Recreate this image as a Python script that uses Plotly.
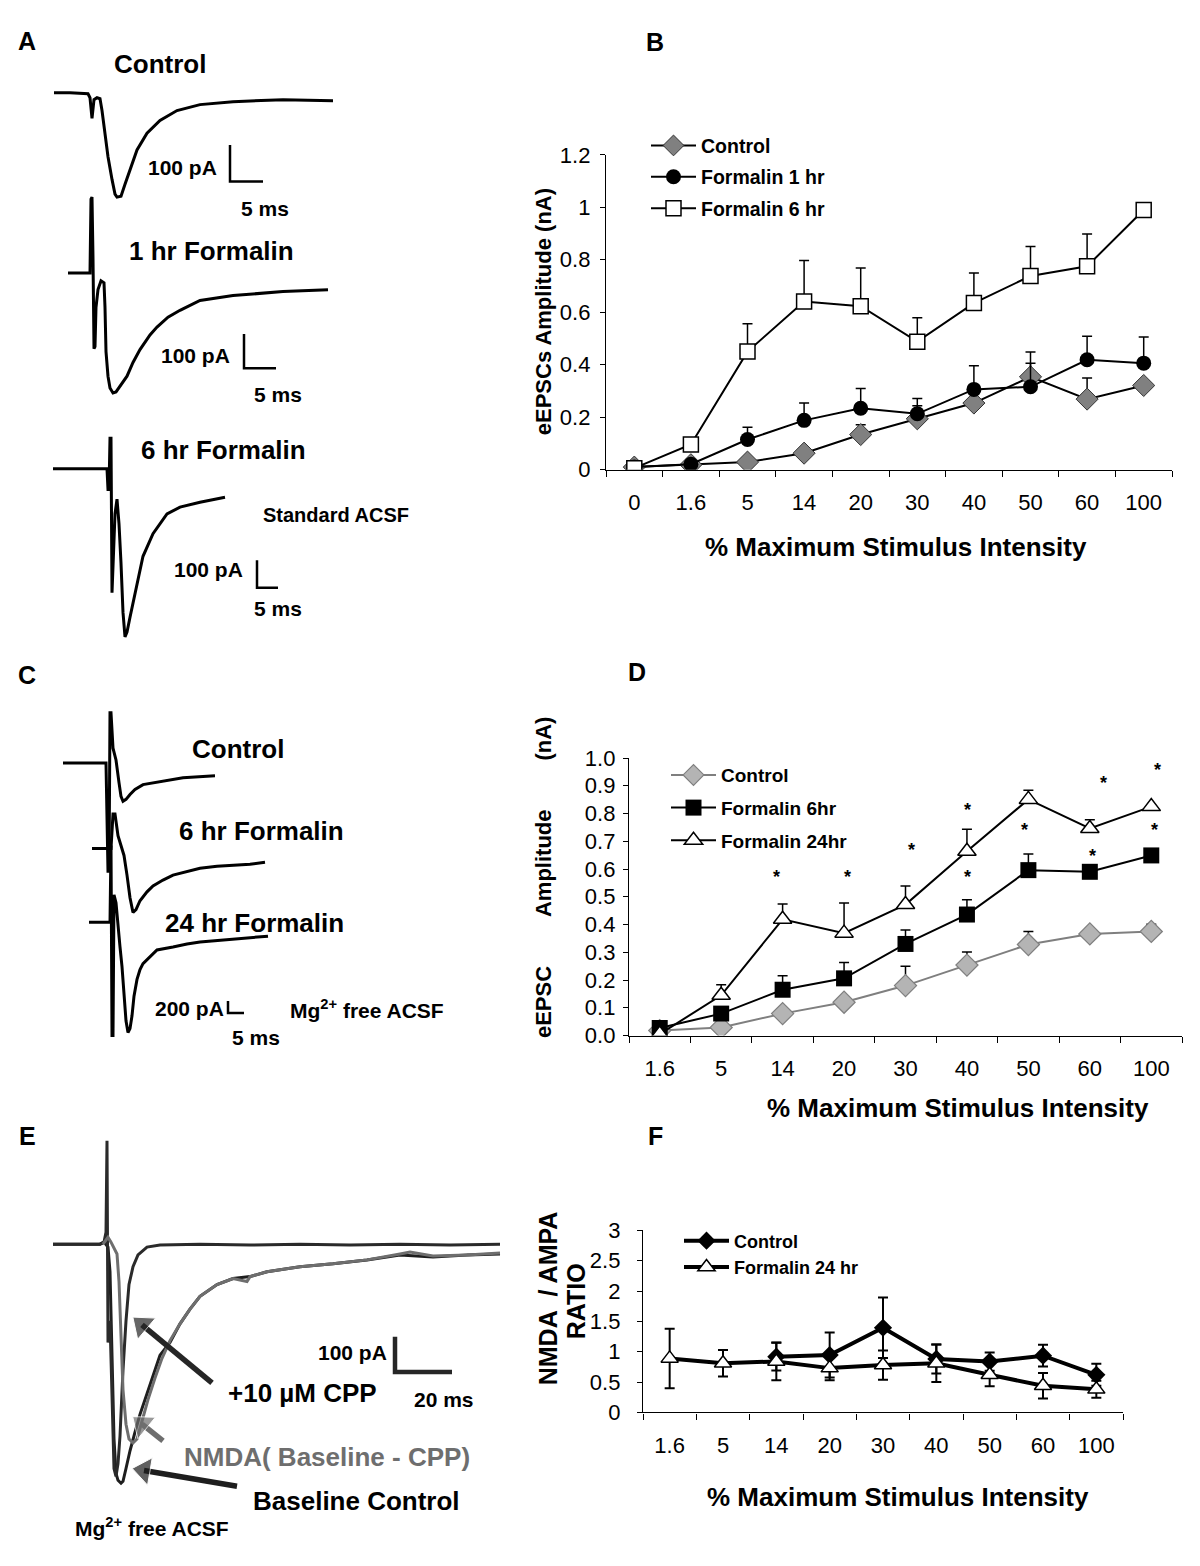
import plotly.graph_objects as go

W, H = 1200, 1566
OFF = 8  # the html body keeps its default 8px margin, so page pixel = figure pixel + 8
FONT = "Liberation Sans, Arial, sans-serif"

# ---------------- panel B data ----------------
b_cats = ['0', '1.6', '5', '14', '20', '30', '40', '50', '60', '100']
b_control = [0.01, 0.019, 0.029, 0.063, 0.134, 0.194, 0.254, 0.354, 0.269, 0.321]
b_control_err = [0, 0.005, 0.01, 0.01, 0.037, 0.05, 0.02, 0.095, 0.08, 0.01]
b_form1 = [0.01, 0.021, 0.115, 0.188, 0.234, 0.213, 0.306, 0.316, 0.419, 0.406]
b_form1_err = [0, 0.005, 0.047, 0.066, 0.075, 0.058, 0.09, 0.09, 0.09, 0.1]
b_form6 = [0.006, 0.096, 0.45, 0.641, 0.623, 0.488, 0.635, 0.738, 0.775, 0.99]
b_form6_err = [0, 0, 0.106, 0.156, 0.146, 0.091, 0.115, 0.113, 0.123, 0]

# ---------------- panel D data ----------------
d_cats = ['1.6', '5', '14', '20', '30', '40', '50', '60', '100']
d_control = [0.018, 0.029, 0.079, 0.12, 0.18, 0.254, 0.328, 0.366, 0.375]
d_control_err = [0, 0, 0.01, 0.01, 0.07, 0.047, 0.047, 0, 0.026]
d_form6 = [0.027, 0.079, 0.165, 0.206, 0.33, 0.436, 0.596, 0.59, 0.649]
d_form6_err = [0, 0, 0.05, 0.057, 0.05, 0.053, 0.058, 0, 0]
d_form24 = [0.005, 0.145, 0.419, 0.369, 0.472, 0.664, 0.851, 0.746, 0.825]
d_form24_err = [0, 0.038, 0.055, 0.109, 0.067, 0.079, 0.033, 0.032, 0]
d_star_x = [1.9, 3.06, 4.1, 5.01, 5.01, 6.11, 5.94, 7.23, 7.04, 8.1, 8.06]
d_star_y = [0.586, 0.586, 0.684, 0.828, 0.586, 1.02, 0.755, 0.923, 0.66, 0.97, 0.755]

# ---------------- panel F data ----------------
f_cats = ['1.6', '5', '14', '20', '30', '40', '50', '60', '100']
f_control = [None, None, 0.919, 0.946, 1.395, 0.881, 0.838, 0.935, 0.62]
f_control_err = [0, 0, 0.23, 0.37, 0.5, 0.24, 0.15, 0.18, 0.18]
f_form24 = [0.89, 0.81, 0.84, 0.73, 0.78, 0.81, 0.62, 0.44, 0.38]
f_form24_err = [0.49, 0.22, 0.31, 0.2, 0.24, 0.31, 0.19, 0.21, 0.14]

a_ctrl_x = [54, 70, 88, 90, 92, 94, 97, 100, 102, 105, 108, 112, 115, 117, 121, 125, 130, 137, 147, 160, 177, 200, 233, 283, 333]
a_ctrl_y = [82, 82, 83, 87, 108, 89, 87, 88, 100, 123, 147, 170, 185, 188, 187, 175, 160, 140, 123, 110, 100, 94, 91, 89, 90]
a_1h_x = [68, 90, 91, 92, 93, 94, 95, 96, 98, 101, 104, 105, 106, 108, 110, 113, 116, 120, 127, 133, 140, 150, 157, 168, 180, 200, 233, 283, 328]
a_1h_y = [265, 265, 190, 188, 250, 342, 340, 300, 282, 273, 275, 300, 345, 370, 382, 387, 386, 380, 370, 356, 343, 328, 320, 310, 303, 293, 288, 284, 282]
a_6h_x = [53, 107, 108, 109, 110, 111, 112, 113, 115, 117, 119, 121, 123, 125, 127, 130, 133, 138, 143, 153, 167, 180, 200, 225]
a_6h_y = [464, 464, 485, 485, 433, 433, 590, 560, 510, 495, 520, 560, 610, 635, 630, 615, 600, 575, 553, 530, 510, 503, 498, 493]

c_ctrl_x = [63, 106, 108, 109, 110, 111, 113, 116, 119, 121, 123, 126, 130, 135, 143, 160, 183, 215]
c_ctrl_y = [763, 763, 873, 873, 712, 712, 748, 760, 783, 797, 802, 800, 795, 790, 785, 782, 778, 776]
c_6h_x = [92, 110, 111, 113, 115, 118, 121, 124, 127, 130, 133, 136, 140, 147, 153, 163, 173, 187, 200, 217, 233, 250, 265]
c_6h_y = [850, 850, 850, 815, 815, 837, 847, 857, 877, 900, 915, 912, 903, 894, 888, 882, 877, 873, 870, 868, 867, 866, 864]
c_24h_x = [89, 110, 111, 112, 113, 114, 116, 118, 120, 122, 124, 126, 128, 130, 132, 134, 137, 140, 143, 150, 157, 173, 187, 200, 233, 268]
c_24h_y = [925, 925, 847, 1040, 1040, 897, 905, 930, 950, 970, 1000, 1025, 1037, 1033, 1020, 1000, 983, 973, 967, 960, 953, 950, 947, 945, 942, 939]

e_base_x = [53, 100, 104, 106, 108, 110, 112, 114, 116, 118, 121, 123, 126, 130, 135, 140, 147, 153, 160, 170, 180, 190, 200, 217, 233, 250, 267, 300, 333, 367, 400, 433, 467, 500]
e_base_y = [1252, 1252, 1250, 1252, 1255, 1280, 1380, 1450, 1485, 1492, 1495, 1493, 1480, 1462, 1443, 1425, 1404, 1385, 1365, 1352, 1333, 1318, 1305, 1293, 1287, 1285, 1280, 1275, 1272, 1268, 1263, 1265, 1263, 1262]
e_cpp_x = [53, 100, 104, 106, 107, 108, 110, 112, 114, 116, 118, 120, 123, 126, 129, 133, 138, 147, 160, 200, 250, 300, 350, 400, 450, 500]
e_cpp_y = [1252, 1252, 1250, 1240, 1147, 1352, 1330, 1420, 1480, 1488, 1475, 1447, 1380, 1330, 1293, 1275, 1263, 1255, 1253, 1252, 1253, 1252, 1253, 1252, 1253, 1252]
e_nmda_x = [103, 108, 111, 114, 117, 119, 121, 123, 126, 129, 133, 137, 142, 148, 155, 162, 170, 180, 190, 200, 217, 233, 247, 250, 267, 300, 333, 367, 400, 410, 433, 467, 500]
e_nmda_y = [1252, 1245, 1250, 1256, 1262, 1290, 1350, 1400, 1435, 1450, 1454, 1450, 1432, 1410, 1388, 1368, 1350, 1333, 1318, 1305, 1293, 1287, 1290, 1285, 1280, 1275, 1272, 1268, 1262, 1260, 1264, 1263, 1261]

# arrows in E: tail point, then centre of the arrow head
e_arrows = [
    ([212, 142], [1393, 1334], '#262626'),
    ([163, 142], [1452, 1435], '#6e6e6e'),
    ([237, 144], [1498, 1482], '#1e1e1e'),
]

scalebars = [
    ([230, 230, 263], [135, 172, 172], 2.5, 'black'),
    ([244, 244, 276], [327, 362, 362], 2.5, 'black'),
    ([257, 257, 278], [557, 585, 585], 2.5, 'black'),
    ([228, 228, 244], [1005, 1017, 1017], 2.5, 'black'),
    ([395, 395, 452], [1346, 1382, 1382], 4.5, '#262626'),
]


def dx(p0, p1):
    return [(p0 - OFF) / W, (p1 - OFF) / W]


def dy(top, bottom):
    return [1 - (bottom - OFF) / H, 1 - (top - OFF) / H]


fig = go.Figure()

for xs, ys, col in [
    (a_ctrl_x, a_ctrl_y, 'black'), (a_1h_x, a_1h_y, 'black'), (a_6h_x, a_6h_y, 'black'),
    (c_ctrl_x, c_ctrl_y, 'black'), (c_6h_x, c_6h_y, 'black'), (c_24h_x, c_24h_y, 'black'),
    (e_base_x, e_base_y, '#1e1e1e'), (e_cpp_x, e_cpp_y, '#2a2a2a'), (e_nmda_x, e_nmda_y, '#6e6e6e'),
]:
    fig.add_trace(go.Scatter(x=xs, y=ys, mode='lines', line=dict(color=col, width=3),
                             xaxis='x4', yaxis='y4', showlegend=False, hoverinfo='skip'))
for xs, ys, wd, col in scalebars:
    fig.add_trace(go.Scatter(x=xs, y=ys, mode='lines', line=dict(color=col, width=wd),
                             xaxis='x4', yaxis='y4', showlegend=False, hoverinfo='skip'))
for xs, ys, col in e_arrows:
    fig.add_trace(go.Scatter(x=xs, y=ys, mode='lines+markers', line=dict(color=col, width=5.5),
                             marker=dict(symbol='triangle-up', size=[0, 24], color=col, angleref='previous'),
                             xaxis='x4', yaxis='y4', showlegend=False, hoverinfo='skip'))


def up_err(errs):
    return dict(type='data', array=errs, arrayminus=[0] * len(errs), symmetric=False,
                color='black', thickness=1.5, width=5)


# ---- B ----
fig.add_trace(go.Scatter(x=b_cats, y=b_control, name='Control', legendgroup='b1',
                         mode='lines+markers', line=dict(color='black', width=2),
                         marker=dict(symbol='diamond', size=17, color='#808080', line=dict(color='#333333', width=1)),
                         error_y=up_err(b_control_err), xaxis='x', yaxis='y', legend='legend'))
fig.add_trace(go.Scatter(x=b_cats, y=b_form1, name='Formalin 1 hr', legendgroup='b2',
                         mode='lines+markers', line=dict(color='black', width=2),
                         marker=dict(symbol='circle', size=15, color='black'),
                         error_y=up_err(b_form1_err), xaxis='x', yaxis='y', legend='legend'))
fig.add_trace(go.Scatter(x=b_cats, y=b_form6, name='Formalin 6 hr', legendgroup='b3',
                         mode='lines+markers', line=dict(color='black', width=2),
                         marker=dict(symbol='square', size=15, color='white', line=dict(color='black', width=1.5)),
                         error_y=up_err(b_form6_err), xaxis='x', yaxis='y', legend='legend'))

# ---- D ----
fig.add_trace(go.Scatter(x=d_cats, y=d_control, name='Control', legendgroup='d1',
                         mode='lines+markers', line=dict(color='#7f7f7f', width=2),
                         marker=dict(symbol='diamond', size=17, color='#b4b4b4', line=dict(color='#7f7f7f', width=1.2)),
                         error_y=up_err(d_control_err), xaxis='x2', yaxis='y2', legend='legend2'))
fig.add_trace(go.Scatter(x=d_cats, y=d_form6, name='Formalin 6hr', legendgroup='d2',
                         mode='lines+markers', line=dict(color='black', width=2),
                         marker=dict(symbol='square', size=16, color='black'),
                         error_y=up_err(d_form6_err), xaxis='x2', yaxis='y2', legend='legend2'))
fig.add_trace(go.Scatter(x=d_cats, y=d_form24, name='Formalin 24hr', legendgroup='d3',
                         mode='lines+markers', line=dict(color='black', width=2),
                         marker=dict(symbol='triangle-up', size=16, color='white', line=dict(color='black', width=1.5)),
                         error_y=up_err(d_form24_err), xaxis='x2', yaxis='y2', legend='legend2'))

# ---- F ----
fig.add_trace(go.Scatter(x=f_cats, y=f_control, name='Control', legendgroup='f1',
                         mode='lines+markers', line=dict(color='black', width=4),
                         marker=dict(symbol='diamond', size=14, color='black'),
                         error_y=dict(type='data', array=f_control_err, color='black', thickness=2, width=5),
                         xaxis='x3', yaxis='y3', legend='legend3'))
fig.add_trace(go.Scatter(x=f_cats, y=f_form24, name='Formalin 24 hr', legendgroup='f2',
                         mode='lines+markers', line=dict(color='black', width=4),
                         marker=dict(symbol='triangle-up', size=15, color='white', line=dict(color='black', width=1.5)),
                         error_y=dict(type='data', array=f_form24_err, color='black', thickness=2, width=5),
                         xaxis='x3', yaxis='y3', legend='legend3'))


def xcat(domain, cats, anchor):
    return dict(domain=domain, anchor=anchor, type='category', categoryorder='array', categoryarray=cats,
                range=[-0.5, len(cats) - 0.5], tickson='boundaries', ticks='outside', ticklen=6,
                tickcolor='black', showline=True, linecolor='black', linewidth=1.3, showgrid=False,
                zeroline=False, tickfont=dict(family=FONT, size=22, color='black'),
                ticklabelstandoff=13, fixedrange=True)


def ynum(domain, rng, dtick, anchor, standoff, fmt=None):
    d = dict(domain=domain, anchor=anchor, range=rng, dtick=dtick, ticks='outside', ticklen=5,
             tickcolor='black', showline=True, linecolor='black', linewidth=1.3, showgrid=False,
             zeroline=False, tickfont=dict(family=FONT, size=22, color='black'),
             ticklabelstandoff=standoff, fixedrange=True)
    if fmt:
        d['tickformat'] = fmt
    return d


def leg(left, top, size, gap):
    return dict(x=(left - OFF) / W, y=1 - (top - OFF) / H, xanchor='left', yanchor='top',
                bgcolor='rgba(0,0,0,0)', itemwidth=45,
                font=dict(family=FONT, size=size, color='black', weight='bold'),
                tracegroupgap=gap, traceorder='grouped', itemclick=False, itemdoubleclick=False)


annotations = []


def txt(x, y, s, size, color='black', angle=0, xanchor='center'):
    annotations.append(dict(x=x, y=y, xref='x4', yref='y4', text=s, showarrow=False, textangle=angle,
                            xanchor=xanchor, yanchor='middle',
                            font=dict(family=FONT, size=size, color=color, weight='bold')))


for letter, lx, ly in [('A', 27, 29), ('B', 655, 30), ('C', 27, 674), ('D', 637, 671), ('E', 27, 1142), ('F', 655, 1142)]:
    txt(lx, ly, letter, 25)

txt(160, 53, 'Control', 26)
txt(211, 243, '1 hr Formalin', 26)
txt(223, 445, '6 hr Formalin', 26)
txt(182, 158, '100 pA', 21)
txt(265, 200, '5 ms', 21)
txt(195, 349, '100 pA', 21)
txt(278, 389, '5 ms', 21)
txt(208, 566, '100 pA', 21)
txt(278, 606, '5 ms', 21)
txt(261, 511, 'Standard ACSF', 20, xanchor='left')

txt(238, 749, 'Control', 26)
txt(261, 832, '6 hr Formalin', 26)
txt(254, 926, '24 hr Formalin', 26)
txt(189, 1013, '200 pA', 21)
txt(256, 1042, '5 ms', 21)
txt(288, 1013, 'Mg<sup>2+</sup> free ACSF', 21, xanchor='left')

txt(302, 1403, '+10 µM CPP', 26)
txt(327, 1468, 'NMDA( Baseline - CPP)', 26, color='#6e6e6e')
txt(356, 1513, 'Baseline Control', 26)
txt(152, 1539, 'Mg<sup>2+</sup> free ACSF', 21)
txt(352, 1362, '100 pA', 21)
txt(444, 1410, '20 ms', 21)

nb = '\u00a0'
txt(543, 305, 'eEPSCs Amplitude (nA)', 22, angle=-90)
txt(896, 544, '% Maximum Stimulus Intensity', 26)
txt(543, 880, 'eEPSC' + nb * 8 + 'Amplitude' + nb * 8 + '(nA)', 22, angle=-90)
txt(958, 1114, '% Maximum Stimulus Intensity', 26)
txt(548, 1307, 'NMDA' + nb * 2 + '/ AMPA', 25, angle=-90)
txt(576, 1310, 'RATIO', 25, angle=-90)
txt(898, 1509, '% Maximum Stimulus Intensity', 26)

for sx, sy in zip(d_star_x, d_star_y):
    annotations.append(dict(x=sx, y=sy, xref='x2', yref='y2', text='*', showarrow=False, yshift=-4,
                            font=dict(family=FONT, size=18, color='black', weight='bold')))

fig.update_layout(
    width=W, height=H, margin=dict(l=0, r=0, t=0, b=0),
    paper_bgcolor='white', plot_bgcolor='rgba(0,0,0,0)',
    xaxis=xcat(dx(606, 1172), b_cats, 'y'),
    yaxis=ynum(dy(145, 465), [0, 1.2], 0.2, 'x', 5),
    xaxis2=xcat(dx(629, 1182), d_cats, 'y2'),
    yaxis2=ynum(dy(758, 1040), [0, 1.0], 0.1, 'x2', 3, '.1f'),
    xaxis3=xcat(dx(643, 1123), f_cats, 'y3'),
    yaxis3=ynum(dy(1238, 1423), [0, 3], 0.5, 'x3', 12),
    xaxis4=dict(domain=[0, 1], range=[OFF, W + OFF], visible=False, fixedrange=True, anchor='y4'),
    yaxis4=dict(domain=[0, 1], range=[H + OFF, OFF], visible=False, fixedrange=True, anchor='x4'),
    legend=leg(646, 116, 19.5, 3),
    legend2=leg(666, 756, 19, 5),
    legend3=leg(679, 1230, 18, 0),
    annotations=annotations,
    showlegend=True,
)

fig.write_html("out.html")
